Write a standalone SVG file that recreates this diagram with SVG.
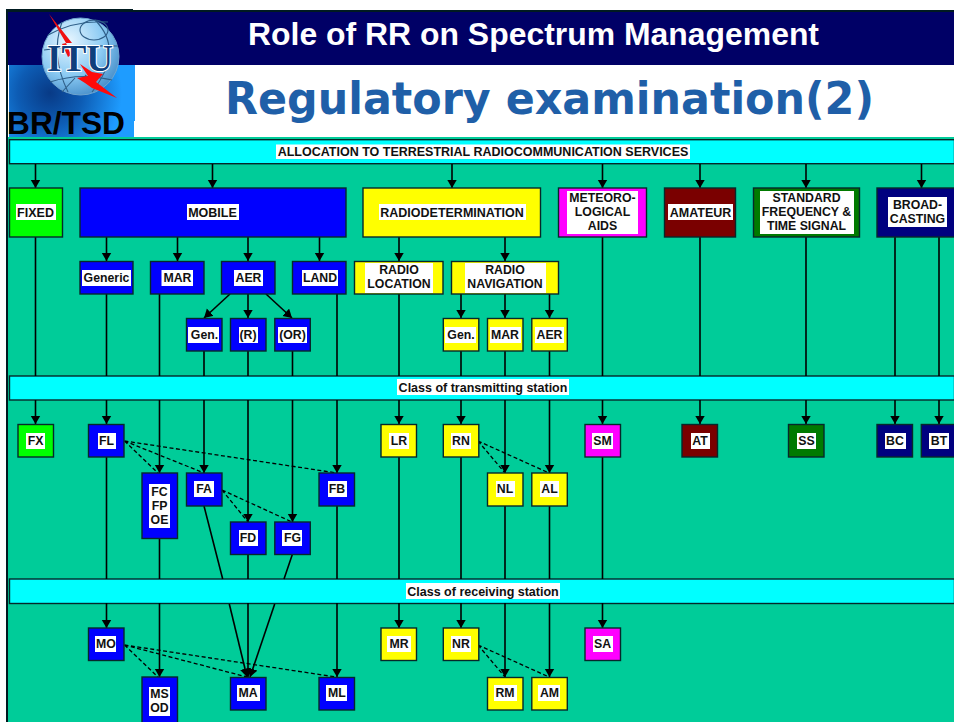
<svg xmlns="http://www.w3.org/2000/svg" width="954" height="722" viewBox="0 0 954 722">
<style>
text{font-family:"Liberation Sans",Arial,sans-serif;font-weight:bold}
.t{font-size:12.3px;fill:#111;text-anchor:middle}
.s{font-size:12.5px}
.l{fill:#fff}
.bx{stroke:#06282a;stroke-width:1.4}
.bar{fill:#0ff;stroke:#06282a;stroke-width:1.4}
.b{fill:#00f}.y{fill:#ff0}.m{fill:#f0f}.g{fill:#0f0}.r{fill:#7a0000}.d{fill:#007a00}.n{fill:#00007f}
#connectors line,#connectors path{stroke:#000;stroke-width:1.6;fill:none}
#connectors .dash{stroke-width:1.3;stroke-dasharray:4 2.5}
.gl{fill:none;stroke:#2f5f88;stroke-width:1.1}
</style>
<defs>
<marker id="a" markerUnits="userSpaceOnUse" markerWidth="10" markerHeight="11" refX="8.500" refY="5" orient="auto"><path d="M0 0L8.500 5L0 10Z" fill="#000"/></marker>
<radialGradient id="sq" gradientUnits="userSpaceOnUse" cx="50" cy="93" r="72"><stop offset="0" stop-color="#083a86"/><stop offset=".45" stop-color="#0d5cb4"/><stop offset="1" stop-color="#1e9cff"/></radialGradient>
<radialGradient id="gb" cx=".35" cy=".3" r=".8"><stop offset="0" stop-color="#e8f6ff"/><stop offset=".55" stop-color="#8ccbf3"/><stop offset="1" stop-color="#3d86c4"/></radialGradient>
</defs>

<g id="header">
<rect x="0" y="0" width="954" height="722" fill="#fff"/>
<rect x="6" y="9" width="948" height="713" fill="#001a20"/>
<rect x="133" y="9" width="821" height="1" fill="#fff"/>
<rect x="8" y="12" width="946" height="53" fill="#000066"/>
<rect x="8" y="65" width="946" height="72" fill="#fff"/>
<rect x="9" y="65" width="126" height="72" fill="url(#sq)"/>
<rect x="134" y="121" width="2" height="16" fill="#fff"/>
<rect x="8" y="137" width="946" height="585" fill="#00cc99"/>
<text x="533.500" y="45" font-size="31" fill="#fff" text-anchor="middle" textLength="571" lengthAdjust="spacingAndGlyphs">Role of RR on Spectrum Management</text>
<text x="549.500" y="113.500" font-size="44" fill="#1f5fa8" text-anchor="middle" style="font-family:'DejaVu Sans',Verdana,sans-serif" textLength="649" lengthAdjust="spacingAndGlyphs">Regulatory examination(2)</text>
<text x="7" y="134" font-size="32" fill="#000" textLength="118" lengthAdjust="spacingAndGlyphs">BR/TSD</text>
</g>

<g id="logo">
<circle cx="80.500" cy="56.500" r="38.500" fill="url(#gb)" stroke="#6fa6cf" stroke-width="1"/>
<ellipse class="gl" cx="94" cy="30" rx="14" ry="10"/>
<path class="gl" d="M48 35Q75 20 108 22M44 50Q80 45 118 46M50 82Q80 72 112 80M62 22Q50 55 68 92M95 20Q125 50 92 92M75 78L62 92M85 75L100 88"/>
<polygon points="49,14 72,43 66,43 71,55 68,57 62,44 66,43" fill="#f01010"/>
<text x="80" y="71" font-size="38" fill="#0f3f7c" stroke="#fff" stroke-width="2" text-anchor="middle" style="font-family:'Liberation Serif',serif;paint-order:stroke" textLength="66" lengthAdjust="spacingAndGlyphs">ITU</text>
<polygon points="80,64 92,72 103,74 96,82 117,98 92,88 85,83 77,78 88,76" fill="#ff0a0a"/>
</g>

<g id="bar-allocation"><rect class="bar" x="9.500" y="139.700" width="945" height="24"/><rect class="l" x="276" y="144.500" width="414" height="14.500"/><text class="t s" x="483" y="155.500">ALLOCATION TO TERRESTRIAL RADIOCOMMUNICATION SERVICES</text></g>
<g id="bar-transmitting"><rect class="bar" x="9.500" y="376" width="945" height="24"/><rect class="l" x="397" y="379" width="172" height="16"/><text class="t s" x="483" y="391.500">Class of transmitting station</text></g>
<g id="bar-receiving"><rect class="bar" x="9.500" y="579" width="945" height="24.500"/><rect class="l" x="406" y="583" width="154" height="16"/><text class="t s" x="483" y="595.500">Class of receiving station</text></g>

<g id="connectors">
<line x1="35.500" y1="164" x2="35.500" y2="188" marker-end="url(#a)"/>
<line x1="212.500" y1="164" x2="212.500" y2="188" marker-end="url(#a)"/>
<line x1="452" y1="164" x2="452" y2="188" marker-end="url(#a)"/>
<line x1="602.500" y1="164" x2="602.500" y2="188" marker-end="url(#a)"/>
<line x1="700" y1="164" x2="700" y2="188" marker-end="url(#a)"/>
<line x1="806" y1="164" x2="806" y2="188" marker-end="url(#a)"/>
<line x1="921.500" y1="164" x2="921.500" y2="188" marker-end="url(#a)"/>
<line x1="106.500" y1="237" x2="106.500" y2="261" marker-end="url(#a)"/>
<line x1="177.500" y1="237" x2="177.500" y2="261" marker-end="url(#a)"/>
<line x1="248" y1="237" x2="248" y2="261" marker-end="url(#a)"/>
<line x1="319.500" y1="237" x2="319.500" y2="261" marker-end="url(#a)"/>
<line x1="399" y1="237" x2="399" y2="261" marker-end="url(#a)"/>
<line x1="505" y1="237" x2="505" y2="261" marker-end="url(#a)"/>
<line x1="230" y1="294" x2="204" y2="318" marker-end="url(#a)"/>
<line x1="248" y1="294" x2="248" y2="318" marker-end="url(#a)"/>
<line x1="266" y1="294" x2="292" y2="318" marker-end="url(#a)"/>
<line x1="461" y1="294" x2="461" y2="318" marker-end="url(#a)"/>
<line x1="505" y1="294" x2="505" y2="318" marker-end="url(#a)"/>
<line x1="549.500" y1="294" x2="549.500" y2="318" marker-end="url(#a)"/>
<line x1="35.500" y1="400" x2="35.500" y2="424" marker-end="url(#a)"/>
<line x1="106.500" y1="400" x2="106.500" y2="424" marker-end="url(#a)"/>
<line x1="159.500" y1="400" x2="159.500" y2="473" marker-end="url(#a)"/>
<line x1="204" y1="400" x2="204" y2="473" marker-end="url(#a)"/>
<line x1="248" y1="400" x2="248" y2="522" marker-end="url(#a)"/>
<line x1="292.500" y1="400" x2="292.500" y2="522" marker-end="url(#a)"/>
<line x1="337" y1="400" x2="337" y2="473" marker-end="url(#a)"/>
<line x1="399" y1="400" x2="399" y2="424" marker-end="url(#a)"/>
<line x1="461" y1="400" x2="461" y2="424" marker-end="url(#a)"/>
<line x1="505" y1="400" x2="505" y2="473" marker-end="url(#a)"/>
<line x1="549.500" y1="400" x2="549.500" y2="473" marker-end="url(#a)"/>
<line x1="602.500" y1="400" x2="602.500" y2="424" marker-end="url(#a)"/>
<line x1="700" y1="400" x2="700" y2="424" marker-end="url(#a)"/>
<line x1="806" y1="400" x2="806" y2="424" marker-end="url(#a)"/>
<line x1="895" y1="400" x2="895" y2="424" marker-end="url(#a)"/>
<line x1="939" y1="400" x2="939" y2="424" marker-end="url(#a)"/>
<line x1="106.500" y1="603" x2="106.500" y2="628" marker-end="url(#a)"/>
<line x1="159.500" y1="603" x2="159.500" y2="677" marker-end="url(#a)"/>
<line x1="229.300" y1="604" x2="247" y2="677" marker-end="url(#a)"/>
<line x1="248" y1="603" x2="248" y2="677" marker-end="url(#a)"/>
<line x1="274.700" y1="604" x2="250" y2="677" marker-end="url(#a)"/>
<line x1="337" y1="603" x2="337" y2="677" marker-end="url(#a)"/>
<line x1="399" y1="603" x2="399" y2="628" marker-end="url(#a)"/>
<line x1="461" y1="603" x2="461" y2="628" marker-end="url(#a)"/>
<line x1="505" y1="603" x2="505" y2="677" marker-end="url(#a)"/>
<line x1="549.500" y1="603" x2="549.500" y2="677" marker-end="url(#a)"/>
<line x1="602.500" y1="603" x2="602.500" y2="628" marker-end="url(#a)"/>
<path d="M35.500 237V376M106.500 294V376M159.500 294V376M204 351V376M248 351V376M292.500 351V376M337 294V376M399 294V376M461 351V376M505 351V376M549.500 351V376M602.500 237V376M700 237V376M806 237V376M895 237V376M939 237V376"/>
<path d="M106.500 457V579M159.500 538V579M204 506L222.700 579M248 554V579M292.500 554L284 579M337 506V579M399 457V579M461 457V579M505 506V579M549.500 506V579M602.500 457V579"/>
<path class="dash" d="M124.500 441L158 473M124.500 441L204 473M124.500 441L337 473M222 490L248 522M222 490L292 522M478 441L505 473M478 441L549 473M124.500 645L158 677M124.500 645L247 677M124.500 645L336 677M478 645L505 677M478 645L549 677"/>
</g>

<g id="fixed"><rect class="bx g" x="9.500" y="188" width="53" height="49"/><rect class="l" x="16" y="204" width="40" height="16"/><text class="t s" x="35.500" y="216.500">FIXED</text></g>
<g id="mobile"><rect class="bx b" x="80" y="188" width="266" height="49"/><rect class="l" x="187" y="204" width="52" height="16"/><text class="t s" x="212.500" y="216.500">MOBILE</text></g>
<g id="radiodetermination"><rect class="bx y" x="363" y="188" width="177.500" height="49"/><rect class="l" x="379" y="204" width="147" height="16"/><text class="t s" x="452" y="216.500">RADIODETERMINATION</text></g>
<g id="meteorological"><rect class="bx m" x="558.500" y="188" width="88" height="49"/><rect class="l" x="567" y="191" width="71" height="43"/><text class="t" x="602.500" y="202">METEORO-</text><text class="t" x="602.500" y="216">LOGICAL</text><text class="t" x="602.500" y="230">AIDS</text></g>
<g id="amateur"><rect class="bx r" x="664.500" y="188" width="71" height="49"/><rect class="l" x="668" y="204" width="65" height="16"/><text class="t s" x="700.500" y="216.500">AMATEUR</text></g>
<g id="standard"><rect class="bx d" x="753.500" y="188" width="106" height="49"/><rect class="l" x="760" y="191" width="94" height="43"/><text class="t" x="806.500" y="202">STANDARD</text><text class="t" x="806.500" y="216">FREQUENCY &amp;</text><text class="t" x="806.500" y="230">TIME SIGNAL</text></g>
<g id="broadcasting"><rect class="bx n" x="877" y="188" width="80" height="49"/><rect class="l" x="888" y="197" width="59" height="30"/><text class="t" x="917.500" y="209">BROAD-</text><text class="t" x="917.500" y="223">CASTING</text></g>

<g id="generic"><rect class="bx b" x="80" y="261.500" width="53" height="32.500"/><rect class="l" x="82" y="270" width="49" height="16"/><text class="t" x="106.500" y="282">Generic</text></g>
<g id="mar"><rect class="bx b" x="150.500" y="261.500" width="53.500" height="32.500"/><rect class="l" x="161.500" y="270" width="31.500" height="16"/><text class="t" x="177.500" y="282">MAR</text></g>
<g id="aer"><rect class="bx b" x="221.500" y="261.500" width="53.500" height="32.500"/><rect class="l" x="234" y="270" width="29" height="16"/><text class="t" x="248.500" y="282">AER</text></g>
<g id="land"><rect class="bx b" x="292.500" y="261.500" width="53.500" height="32.500"/><rect class="l" x="302" y="270" width="36" height="16"/><text class="t" x="320" y="282">LAND</text></g>
<g id="radio-location"><rect class="bx y" x="354.500" y="261.500" width="88.500" height="32.500"/><rect class="l" x="365" y="263" width="68" height="30"/><text class="t" x="399" y="274">RADIO</text><text class="t" x="399" y="288">LOCATION</text></g>
<g id="radio-navigation"><rect class="bx y" x="451.500" y="261.500" width="107" height="32.500"/><rect class="l" x="465" y="263" width="81" height="30"/><text class="t" x="505" y="274">RADIO</text><text class="t" x="505" y="288">NAVIGATION</text></g>

<g id="mob-gen"><rect class="bx b" x="186.500" y="318.500" width="35.500" height="32.500"/><rect class="l" x="188" y="327" width="31" height="16"/><text class="t" x="204.500" y="339">Gen.</text></g>
<g id="mob-r"><rect class="bx b" x="230.500" y="318.500" width="35.500" height="32.500"/><rect class="l" x="239" y="327" width="19" height="16"/><text class="t" x="248" y="339">(R)</text></g>
<g id="mob-or"><rect class="bx b" x="274.800" y="318.500" width="35.500" height="32.500"/><rect class="l" x="278" y="327" width="29" height="16"/><text class="t" x="292.500" y="339">(OR)</text></g>
<g id="rad-gen"><rect class="bx y" x="443.300" y="318.500" width="35.500" height="32.500"/><rect class="l" x="445" y="327" width="31" height="16"/><text class="t" x="461" y="339">Gen.</text></g>
<g id="rad-mar"><rect class="bx y" x="487.500" y="318.500" width="35.500" height="32.500"/><rect class="l" x="490" y="327" width="31" height="16"/><text class="t" x="505" y="339">MAR</text></g>
<g id="rad-aer"><rect class="bx y" x="531.800" y="318.500" width="35.500" height="32.500"/><rect class="l" x="535" y="327" width="29" height="16"/><text class="t" x="549.500" y="339">AER</text></g>

<g id="FX"><rect class="bx g" x="18" y="424.500" width="35.500" height="32.500"/><rect class="l" x="26" y="433" width="19" height="16"/><text class="t" x="35.500" y="445">FX</text></g>
<g id="FL"><rect class="bx b" x="88.500" y="424.500" width="35.500" height="32.500"/><rect class="l" x="98" y="433" width="18" height="16"/><text class="t" x="106.500" y="445">FL</text></g>
<g id="LR"><rect class="bx y" x="381" y="424.500" width="35.500" height="32.500"/><rect class="l" x="389" y="433" width="20" height="16"/><text class="t" x="399" y="445">LR</text></g>
<g id="RN"><rect class="bx y" x="443.300" y="424.500" width="35.500" height="32.500"/><rect class="l" x="451" y="433" width="20" height="16"/><text class="t" x="461" y="445">RN</text></g>
<g id="SM"><rect class="bx m" x="585" y="424.500" width="35.500" height="32.500"/><rect class="l" x="592" y="433" width="21" height="16"/><text class="t" x="602.500" y="445">SM</text></g>
<g id="AT"><rect class="bx r" x="682" y="424.500" width="35.500" height="32.500"/><rect class="l" x="691" y="433" width="19" height="16"/><text class="t" x="700" y="445">AT</text></g>
<g id="SS"><rect class="bx d" x="788.500" y="424.500" width="35.500" height="32.500"/><rect class="l" x="797" y="433" width="19" height="16"/><text class="t" x="806.500" y="445">SS</text></g>
<g id="BC"><rect class="bx n" x="877" y="424.500" width="35.500" height="32.500"/><rect class="l" x="885" y="433" width="21" height="16"/><text class="t" x="895" y="445">BC</text></g>
<g id="BT"><rect class="bx n" x="921.300" y="424.500" width="35.500" height="32.500"/><rect class="l" x="929" y="433" width="20" height="16"/><text class="t" x="939" y="445">BT</text></g>

<g id="FC-FP-OE"><rect class="bx b" x="142" y="473" width="35.500" height="65.500"/><rect class="l" x="149" y="484" width="21" height="44"/><text class="t" x="159.500" y="496">FC</text><text class="t" x="159.500" y="510">FP</text><text class="t" x="159.500" y="524">OE</text></g>
<g id="FA"><rect class="bx b" x="186.500" y="473" width="35.500" height="33"/><rect class="l" x="194" y="481" width="20" height="16"/><text class="t" x="204" y="493">FA</text></g>
<g id="FB"><rect class="bx b" x="319" y="473" width="35.500" height="33"/><rect class="l" x="328" y="481" width="19" height="16"/><text class="t" x="337" y="493">FB</text></g>
<g id="NL"><rect class="bx y" x="487.500" y="473" width="35.500" height="33"/><rect class="l" x="496" y="481" width="19" height="16"/><text class="t" x="505" y="493">NL</text></g>
<g id="AL"><rect class="bx y" x="531.800" y="473" width="35.500" height="33"/><rect class="l" x="540" y="481" width="19" height="16"/><text class="t" x="549.500" y="493">AL</text></g>
<g id="FD"><rect class="bx b" x="230.500" y="522" width="35.500" height="32.500"/><rect class="l" x="239" y="530" width="19" height="16"/><text class="t" x="248" y="542">FD</text></g>
<g id="FG"><rect class="bx b" x="274.800" y="522" width="35.500" height="32.500"/><rect class="l" x="282" y="530" width="20" height="16"/><text class="t" x="292.500" y="542">FG</text></g>

<g id="MO"><rect class="bx b" x="88.500" y="628" width="35.500" height="32.500"/><rect class="l" x="95" y="636" width="21" height="16"/><text class="t" x="106" y="648">MO</text></g>
<g id="MR"><rect class="bx y" x="381" y="628" width="35.500" height="32.500"/><rect class="l" x="387" y="636" width="24" height="16"/><text class="t" x="399" y="648">MR</text></g>
<g id="NR"><rect class="bx y" x="443.300" y="628" width="35.500" height="32.500"/><rect class="l" x="451" y="636" width="20" height="16"/><text class="t" x="461" y="648">NR</text></g>
<g id="SA"><rect class="bx m" x="585" y="628" width="35.500" height="32.500"/><rect class="l" x="593" y="636" width="20" height="16"/><text class="t" x="602.500" y="648">SA</text></g>
<g id="MS-OD"><rect class="bx b" x="142" y="677" width="35.500" height="50"/><rect class="l" x="149" y="687" width="21" height="29"/><text class="t" x="159.500" y="698">MS</text><text class="t" x="159.500" y="712">OD</text></g>
<g id="MA"><rect class="bx b" x="230.500" y="677.500" width="35.500" height="32.500"/><rect class="l" x="237" y="685" width="23" height="16"/><text class="t" x="248" y="697">MA</text></g>
<g id="ML"><rect class="bx b" x="319" y="677.500" width="35.500" height="32.500"/><rect class="l" x="326" y="685" width="21" height="16"/><text class="t" x="337" y="697">ML</text></g>
<g id="RM"><rect class="bx y" x="487.500" y="677.500" width="35.500" height="32.500"/><rect class="l" x="494" y="685" width="23" height="16"/><text class="t" x="505" y="697">RM</text></g>
<g id="AM"><rect class="bx y" x="531.800" y="677.500" width="35.500" height="32.500"/><rect class="l" x="538" y="685" width="22" height="16"/><text class="t" x="549.500" y="697">AM</text></g>
</svg>
